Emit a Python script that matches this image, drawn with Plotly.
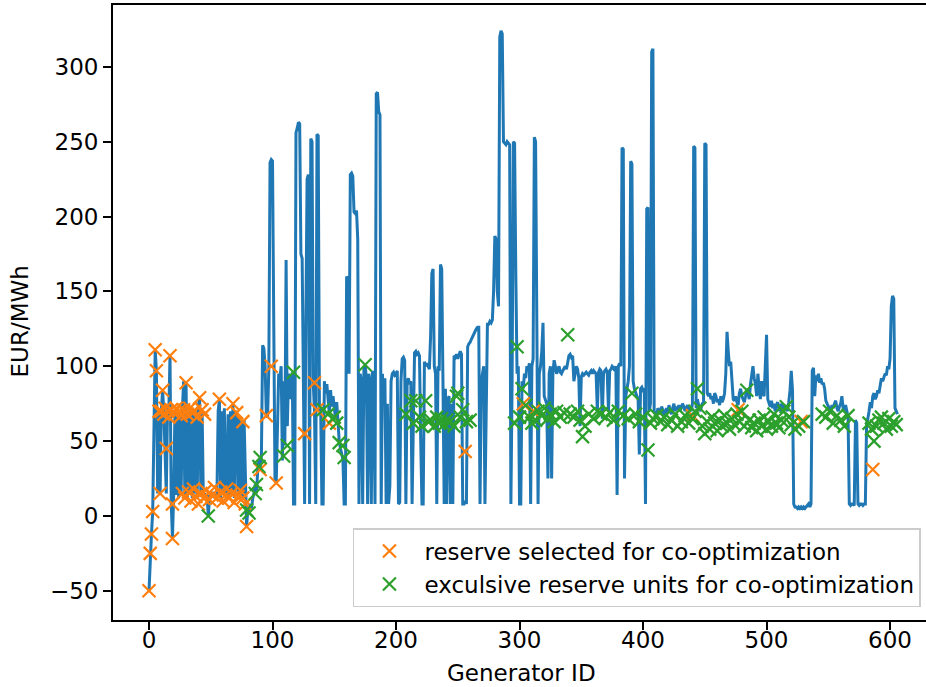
import plotly.graph_objects as go

# Blue line: price per generator ID (index = generator ID)
price = [
    -50, -25, -12, 3, 60, 111, 97, 15, 70, 15, 70, 84, 70, 45, 15, 72, 68, 107, 8, -15,
    15, 70, 14, 72, 12, 68, 15, 70, 90, 14, 89, 12, 70, 16, 72, 12, 68, 15, 70, 12,
    74, 79, 14, 70, 12, 15, 12, 14, 0, 12, 15, 13, 16, 12, 15, 14, 70, 78, 12, 70,
    14, 72, 15, 12, 68, 14, 70, 15, 75, 12, 69, 70, 14, 66, 12, 63, 12, 64, 15, -7,
    4, 2, 8, 5, 12, 15, 21, 15, 30, 38, 31, 40, 114, 112, 100, 67, 66, 98, 236, 238,
    237, 99, 24, 22, 66, 95, 92, 100, 37, 90, 47, 171, 60, 95, 90, 78, 96, 8, 8, 256,
    259, 263, 262, 175, 172, 55, 8, 130, 225, 228, 8, 252, 250, 88, 70, 8, 255, 254, 70, 72,
    8, 8, 90, 82, 88, 78, 68, 84, 73, 80, 70, 65, 76, 62, 50, 45, 40, 38, 8, 8,
    160, 158, 95, 228, 229, 227, 203, 202, 204, 185, 8, 95, 90, 8, 98, 101, 92, 8, 95, 90,
    8, 97, 92, 8, 282, 283, 270, 268, 8, 95, 75, 92, 8, 75, 8, 20, 90, 95, 96, 94,
    95, 97, 8, 9, 90, 105, 106, 104, 8, 90, 92, 88, 90, 8, 60, 109, 110, 108, 109, 107,
    50, 8, 8, 103, 100, 102, 100, 98, 120, 162, 165, 100, 95, 8, 100, 97, 168, 165, 90, 8,
    85, 8, 78, 80, 8, 75, 8, 107, 106, 108, 105, 107, 110, 108, 8, 8, 10, 8, 113, 115,
    116, 118, 120, 121, 123, 125, 126, 126, 8, 90, 95, 100, 8, 60, 128, 128, 130, 129, 131, 150,
    187, 185, 150, 140, 320, 324, 322, 250, 249, 248, 250, 249, 248, 8, 90, 250, 249, 160, 95, 100,
    8, 8, 90, 85, 95, 92, 100, 98, 102, 8, 100, 105, 253, 250, 100, 8, 95, 100, 110, 129,
    80, 77, 75, 25, 95, 100, 25, 95, 104, 100, 95, 98, 100, 96, 95, 97, 99, 100, 98, 103,
    107, 108, 106, 107, 90, 95, 100, 98, 92, 60, 93, 95, 94, 95, 96, 95, 94, 96, 97, 95,
    97, 96, 95, 70, 96, 98, 97, 65, 95, 97, 98, 96, 70, 97, 98, 100, 99, 97, 100, 14,
    100, 102, 100, 246, 245, 25, 80, 85, 90, 100, 237, 235, 90, 85, 82, 80, 78, 41, 85, 86,
    84, 85, 8, 205, 206, 70, 75, 310, 312, 70, 68, 66, 72, 70, 68, 73, 71, 67, 70, 72,
    69, 74, 70, 68, 72, 75, 70, 73, 71, 74, 70, 72, 75, 73, 70, 72, 74, 71, 73, 70,
    75, 247, 246, 72, 78, 74, 70, 72, 75, 76, 249, 248, 82, 80, 82, 78, 80, 75, 82, 80,
    76, 78, 74, 80, 76, 78, 82, 95, 123, 110, 100, 103, 85, 78, 77, 80, 76, 74, 82, 85,
    80, 78, 76, 80, 85, 82, 78, 88, 95, 100, 92, 88, 80, 95, 85, 78, 90, 82, 80, 98,
    121, 78, 75, 73, 77, 72, 75, 70, 74, 76, 72, 70, 75, 73, 71, 74, 72, 70, 76, 84,
    97, 84, 8, 6, 6, 5, 6, 5, 6, 5, 6, 5, 6, 7, 8, 6, 8, 97, 99, 80,
    94, 90, 95, 89, 92, 88, 89, 85, 77, 75, 73, 72, 70, 74, 72, 75, 77, 72, 70, 73,
    75, 80, 72, 70, 74, 70, 66, 8, 7, 8, 8, 7, 64, 62, 8, 7, 8, 8, 7, 8,
    8, 62, 65, 70, 76, 72, 80, 82, 78, 80, 84, 82, 88, 92, 90, 93, 95, 94, 100, 98,
    105, 140, 147, 145, 72, 70, 68,
]
gen_id = list(range(len(price)))

# Orange markers: reserve selected for co-optimization
orange_id = [0, 1, 2, 3, 5, 17, 6, 11, 10, 14, 9, 19, 19, 30, 41, 57, 68, 71, 76, 79,
             90, 95, 99, 103,
             8, 12, 13, 15, 16, 18, 20, 22, 24, 26, 28, 31, 33, 35, 37, 39, 43, 45,
             27, 29, 32, 34, 36, 38, 40, 42, 44, 46, 49, 51, 53, 55, 58, 60, 62, 63,
             65, 67, 69, 72, 74, 76, 78,
             126, 134, 136, 146, 256, 303, 311, 440, 477, 528, 586]
orange_val = [-50, -25, -12, 3, 111, 107, 97, 84, 70, 45, 15, -15, 8, 89, 79, 78, 75, 69, 63, -7,
              31, 67, 100, 22,
              70, 68, 72, 70, 66, 71, 69, 72, 70, 67, 71, 68, 72, 69, 70, 66, 71, 68,
              15, 12, 16, 10, 18, 13, 8, 15, 12, 17, 11, 14, 19, 12, 16, 10, 14, 18,
              12, 15, 9, 13, 17, 12, 8,
              55, 89, 71, 62, 43, 75, 70, 67, 71, 63, 31]

# Green markers: exclusive reserve units for co-optimization
green_id = [48, 79, 81, 86, 87, 89, 90, 109, 112, 117, 141, 145, 150, 152,
            154, 157, 158, 175,
            208, 212, 214, 216, 219, 221, 224, 226, 228, 231, 233, 235, 237, 239, 241, 244, 247, 249,
            250, 252, 254, 257, 260,
            296, 298, 300, 302, 305, 308, 310, 313, 315, 318, 320, 323, 325, 328, 330, 333, 336, 339,
            341, 344, 347, 349, 351, 353, 356,
            360, 363, 366, 370, 373, 376, 380, 384, 388, 391, 394, 397, 400, 404, 406, 408, 411, 414,
            417, 420, 423, 426, 428, 431, 434, 437, 440, 442, 444, 446, 448, 450, 452, 454, 456, 458,
            460, 462, 464, 466, 468, 470, 472, 474, 476, 478, 480, 482, 484, 486, 488, 490, 492, 494,
            496, 498, 500, 502, 504, 506, 508, 510, 512, 514, 516, 518, 520, 523, 526, 530,
            545, 548, 551, 554, 557, 560, 563, 566, 583, 585, 587, 589, 591, 593, 595, 597, 599, 601,
            603, 605]
green_val = [0, 4, 2, 15, 21, 33, 39, 40, 47, 96, 71, 68, 66, 62,
             49, 47, 39, 101,
             68, 77, 62, 77, 66, 60, 77, 63, 64, 60, 66, 62, 65, 61, 64, 63, 60, 80,
             82, 66, 71, 63, 64,
             62, 113, 66, 85, 74, 66, 62, 64, 70, 67, 72, 65, 68, 63, 70, 66, 69, 121,
             68, 66, 70, 64, 53, 60, 68,
             65, 70, 68, 66, 69, 64, 70, 67, 65, 82, 68, 63, 66, 44, 62, 65, 67, 63,
             66, 61, 64, 68, 60, 63, 67, 62, 65, 70, 85, 72, 60, 55, 63, 58, 66, 62,
             57, 64, 60, 67, 62, 58, 65, 61, 68, 63, 70, 60, 84, 64, 59, 62, 57, 64,
             60, 66, 58, 63, 60, 68, 62, 59, 64, 70, 73, 66, 61, 58, 60, 63,
             68, 66, 70, 62, 67, 64, 60, 67, 62, 58, 50, 60, 64, 66, 62, 58, 65, 60,
             63, 61]

x_ticks = [0, 100, 200, 300, 400, 500, 600]
y_ticks = [-50, 0, 50, 100, 150, 200, 250, 300]

BLUE, ORANGE, GREEN = "#1f77b4", "#ff7f0e", "#2ca02c"
FONT = "DejaVu Sans"
FS = 23

fig = go.Figure()
fig.add_trace(go.Scatter(x=gen_id, y=price, mode="lines",
                         line=dict(color=BLUE, width=3), showlegend=False, hoverinfo="skip"))
fig.add_trace(go.Scatter(x=orange_id, y=orange_val, mode="markers",
                         name="reserve selected for co-optimization",
                         marker=dict(symbol="x-thin", size=13, color=ORANGE,
                                     line=dict(width=2.2, color=ORANGE))))
fig.add_trace(go.Scatter(x=green_id, y=green_val, mode="markers",
                         name="exculsive reserve units for co-optimization",
                         marker=dict(symbol="x-thin", size=13, color=GREEN,
                                     line=dict(width=2.2, color=GREEN))))

axis_common = dict(ticks="outside", ticklen=8, tickwidth=1.8, tickcolor="black",
                   showline=True, linecolor="black", linewidth=1.8,
                   showgrid=False, zeroline=False, automargin=False,
                   tickfont=dict(family=FONT, size=FS, color="black"))

fig.update_layout(
    width=926, height=687,
    margin=dict(l=113, r=0, t=5, b=67),
    paper_bgcolor="white", plot_bgcolor="white",
    font=dict(family=FONT, size=FS, color="black"),
    xaxis=dict(range=[-29.15, 629.1], tickvals=x_ticks, mirror=True,
               ticklabelstandoff=-10, **axis_common),
    yaxis=dict(range=[-69.5, 341.3], tickvals=y_ticks, mirror=False, **axis_common),
    legend=dict(x=0.9938, xanchor="right", y=0.021, yanchor="bottom",
                bordercolor="#cccccc", borderwidth=1.5, bgcolor="rgba(255,255,255,0.8)",
                font=dict(family=FONT, size=FS, color="black"), itemwidth=60,
                tracegroupgap=0),
    annotations=[
        dict(text="Generator ID", xref="paper", yref="paper", x=0.503, y=-0.0862,
             xanchor="center", yanchor="middle", showarrow=False,
             font=dict(family=FONT, size=FS, color="black")),
        dict(text="EUR/MWh", xref="paper", yref="paper", x=-0.114, y=0.486,
             xanchor="center", yanchor="middle", textangle=-90, showarrow=False,
             font=dict(family=FONT, size=FS, color="black")),
    ],
    showlegend=True,
)

fig.write_html("out.html")
